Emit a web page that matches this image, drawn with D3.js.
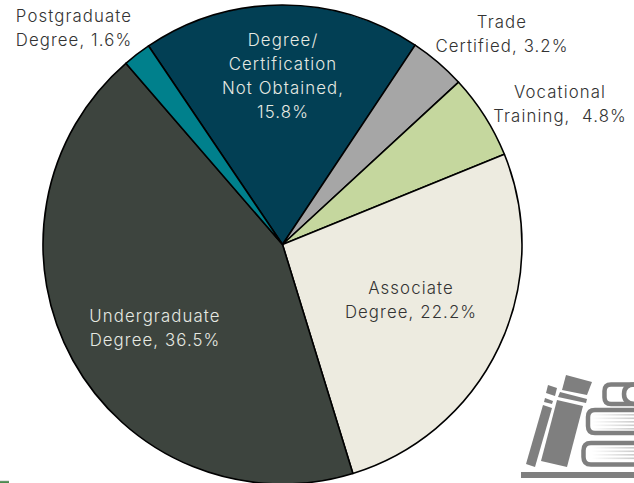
<!DOCTYPE html>
<html>
<head>
<meta charset="utf-8">
<script src="https://cdn.jsdelivr.net/npm/d3@7"></script>
<style>
  html, body { margin: 0; padding: 0; background: #fff; overflow: hidden; }
  svg { display: block; }
  text { font-family: "Inter", "Open Sans", sans-serif; font-weight: 300; font-size: 16.8px; letter-spacing: 1.1px; }
</style>
</head>
<body>
<div id="chart"></div>
<script>
// Data
var categories = ["Degree/ Certification Not Obtained", "Trade Certified", "Vocational Training", "Associate Degree", "Undergraduate Degree", "Postgraduate Degree"];
var shares = [15.8, 3.2, 4.8, 22.2, 36.5, 1.6];
var labelLines = [
  ["Degree/", "Certification", "Not Obtained,", "15.8%"],
  ["Trade", "Certified, 3.2%"],
  ["Vocational", "Training,  4.8%"],
  ["Associate", "Degree, 22.2%"],
  ["Undergraduate", "Degree, 36.5%"],
  ["Postgraduate", "Degree, 1.6%"]
];

// Styling
var sliceColors = ["#023f54", "#a6a6a6", "#c5d79e", "#edebe0", "#3d443e", "#00808c"];
var labelColors = ["#e6e9e2", "#333333", "#333333", "#333333", "#e6e9e2", "#333333"];
var labelCenters = [[283, 40], [502, 22], [560, 92], [411, 288], [155, 316], [74, 16]];
var lineHeight = 24;

var svgWidth = 634;
var svgHeight = 483;
var radius = 239.5;

var svg = d3.select("#chart")
  .append("svg")
  .attr("width", svgWidth)
  .attr("height", svgHeight);

var defs = svg.append("defs");
var fade = defs.append("linearGradient").attr("id", "pageFade")
  .attr("gradientUnits", "userSpaceOnUse")
  .attr("x1", 592).attr("x2", 634).attr("y1", 0).attr("y2", 0);
fade.append("stop").attr("offset", 0).attr("stop-color", "#7f7f7f").attr("stop-opacity", 0);
fade.append("stop").attr("offset", 1).attr("stop-color", "#7f7f7f").attr("stop-opacity", 0.4);

// Pie, normalised on the sum of the shares like the original
var pie = d3.pie()
  .sort(null)
  .startAngle(-34 * Math.PI / 180)
  .endAngle(326 * Math.PI / 180);

var arc = d3.arc().innerRadius(0).outerRadius(radius);

var chartGroup = svg.append("g")
  .attr("transform", "translate(282.5, 244.5)");

chartGroup.selectAll("path")
  .data(pie(shares))
  .enter()
  .append("path")
  .attr("d", arc)
  .attr("fill", function(d, i) { return sliceColors[i]; })
  .attr("stroke", "#000")
  .attr("stroke-width", 1.6)
  .attr("stroke-linejoin", "round")
  .append("title")
  .text(function(d, i) { return categories[i]; });

// Labels
labelLines.forEach(function(lines, i) {
  var label = svg.append("text")
    .attr("text-anchor", "middle")
    .attr("fill", labelColors[i])
    .style("white-space", "pre");
  lines.forEach(function(line, j) {
    label.append("tspan")
      .attr("x", labelCenters[i][0])
      .attr("y", labelCenters[i][1] + j * lineHeight)
      .attr("dy", "0.36em")
      .text(line);
  });
});

// Book icon, bottom right
var icon = svg.append("g").attr("fill", "#7f7f7f");
icon.append("rect").attr("x", 521).attr("y", 472).attr("width", 113).attr("height", 6);
[
  "M548,385 L557,388 L555,396 L546,393 Z",
  "M545,398 L553,401 L552,404 L544,402 Z",
  "M543,405 L552,408 L535,467 L526,464 Z",
  "M566,375 L592,382 L587,395 L562,390 Z",
  "M560,392 L587,399 L586,403 L558,397 Z",
  "M557,400 L583,406 L567,467 L541,461 Z"
].forEach(function(d) {
  icon.append("path").attr("d", d);
});

var pages = svg.append("g")
  .attr("fill", "none")
  .attr("stroke", "#7f7f7f")
  .attr("stroke-width", 4.5);
pages.append("path").attr("d", "M634,443 L591,443 Q583.5,443 583.5,450.5 L583.5,457 Q583.5,464.5 591,464.5 L634,464.5");
pages.append("path").attr("d", "M634,410 L595,410 Q588,410 588,417 L588,426 Q588,433 595,433 L634,433");
pages.append("path").attr("d", "M634,384.5 L611,384.5 Q604.5,384.5 604.5,391 L604.5,397.5 Q604.5,404 611,404 L634,404");
pages.append("path").attr("d", "M634,384.5 Q624,385 624,394 Q624,403 634,404");

// Faded page lines
var pageLines = svg.append("g").attr("fill", "url(#pageFade)");
[447, 450.5, 454, 457.5, 414, 417.5, 421, 424.5, 428].forEach(function(y) {
  pageLines.append("rect").attr("x", 592).attr("y", y).attr("width", 42).attr("height", 1.6);
});

// Small leftovers at the bottom left edge
svg.append("rect").attr("x", 0).attr("y", 481).attr("width", 9).attr("height", 2).attr("fill", "#4a8a4f");
svg.append("rect").attr("x", 0).attr("y", 480.5).attr("width", 9).attr("height", 0.7).attr("fill", "#c9c9c9");
</script>
</body>
</html>
